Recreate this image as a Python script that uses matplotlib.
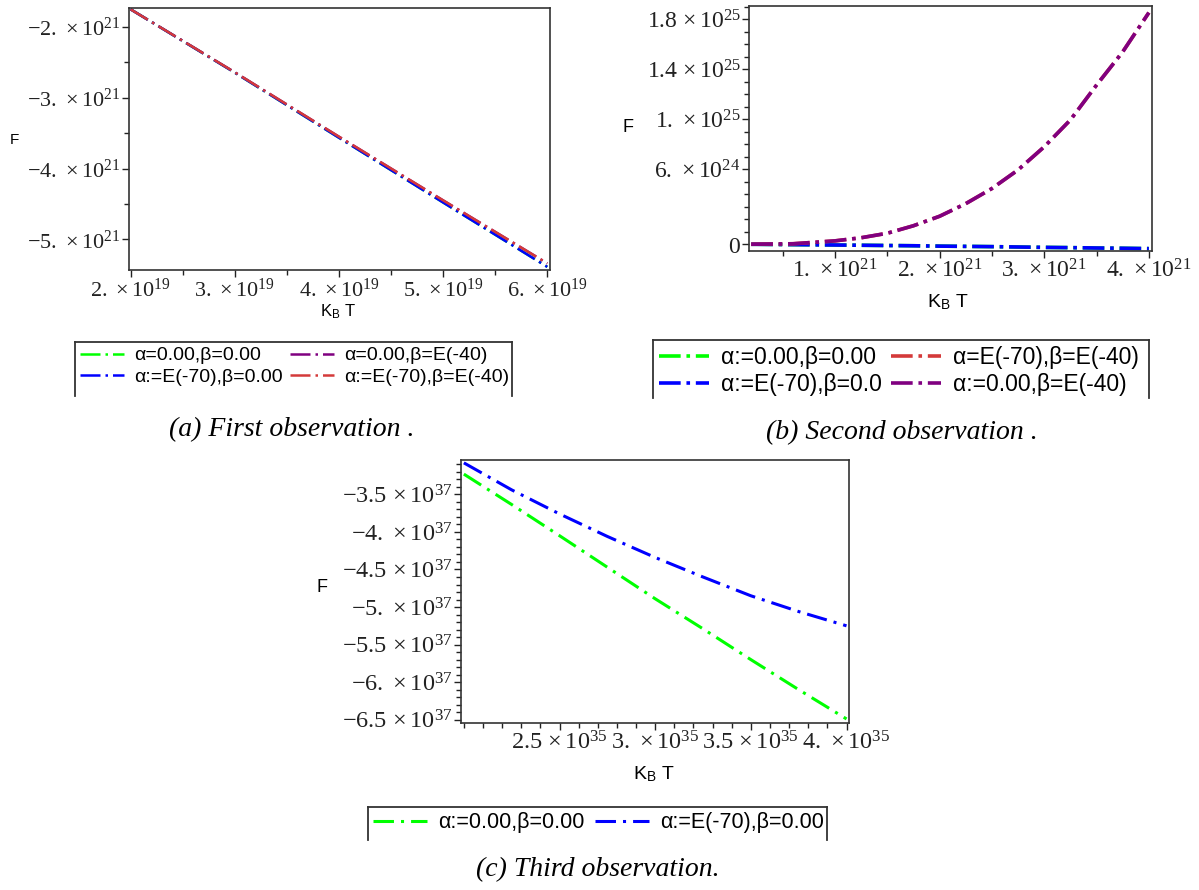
import matplotlib
matplotlib.use("Agg")
import matplotlib.pyplot as plt
import numpy as np
from matplotlib.ticker import FixedLocator, MultipleLocator, FuncFormatter

plt.rcParams['mathtext.fontset'] = 'custom'
plt.rcParams['mathtext.rm'] = 'Liberation Serif'
plt.rcParams['mathtext.it'] = 'Liberation Serif:italic'
plt.rcParams['mathtext.sf'] = 'Liberation Sans'
plt.rcParams['font.family'] = ['Liberation Sans', 'DejaVu Sans']

# ---- datos (a) primera observacion
kT_a = np.array([2.0, 3.0, 4.0, 5.0, 6.0]) * 1e19
F_a_green = np.array([-1.75, -2.645, -3.565, -4.48, -5.39]) * 1e21
F_a_blue = np.array([-1.75, -2.645, -3.565, -4.48, -5.39]) * 1e21
F_a_purple = np.array([-1.75, -2.64, -3.55, -4.45, -5.34]) * 1e21
F_a_red = np.array([-1.75, -2.64, -3.55, -4.45, -5.34]) * 1e21

# ---- datos (b) segunda observacion
kT_b = np.array([0.2, 0.6, 1.0, 1.25, 1.5, 1.75, 2.0, 2.25, 2.5, 2.75,
                 3.0, 3.25, 3.5, 3.75, 4.0]) * 1e21
F_b_purple = np.array([0.0, 0.004, 0.027, 0.052, 0.088, 0.148, 0.224, 0.325,
                       0.446, 0.595, 0.78, 0.995, 1.274, 1.54, 1.854]) * 1e25
F_b_red = F_b_purple.copy()
F_b_blue = np.array([0.0, -0.003, -0.006, -0.008, -0.010, -0.012, -0.015, -0.017,
                     -0.019, -0.022, -0.025, -0.027, -0.030, -0.032, -0.035]) * 1e25
F_b_green = F_b_blue.copy()

# ---- datos (c) tercera observacion
kT_c = np.array([2.0, 2.25, 2.5, 2.75, 3.0, 3.25, 3.5, 3.75, 4.0]) * 1e35
F_c_green = np.array([-3.23, -3.635, -4.05, -4.47, -4.89, -5.29, -5.70, -6.10, -6.49]) * 1e37
F_c_blue = np.array([-3.08, -3.44, -3.76, -4.06, -4.34, -4.60, -4.85, -5.06, -5.25]) * 1e37

lab_a = ["α=0.00,β=0.00", "α:=E(-70),β=0.00", "α=0.00,β=E(-40)", "α:=E(-70),β=E(-40)"]
lab_b = ["α:=0.00,β=0.00", "α:=E(-70),β=0.0", "α=E(-70),β=E(-40)", "α:=0.00,β=E(-40)"]
lab_c = ["α:=0.00,β=0.00", "α:=E(-70),β=0.00"]

GREEN, BLUE, PURPLE, RED = '#00ff00', '#0000ff', '#800080', '#d43a3a'

W, H = 1199, 890


def caja(l, t, r, b):
    return [l / W, 1 - b / H, (r - l) / W, (b - t) / H]


def maple_sci(v, pos=None):
    if abs(v) < 1e-300:
        return r'$0$'
    mant, exp = f"{abs(v):.3e}".split('e')
    mant = mant.rstrip('0')
    sign = '-' if v < 0 else ''
    return rf'${sign}{mant}\,\times10^{{{int(exp)}}}$'


def estilo(lw, dash, dot, gap):
    return dict(lw=lw, linestyle=(0, (dash, gap, dot, gap)))


def preparar(ax, fs):
    for s in ax.spines.values():
        s.set_color('#333333')
        s.set_linewidth(1.2)
    ax.tick_params(which='both', direction='out', width=1, colors='#222222', pad=1)
    ax.tick_params(which='major', length=5)
    ax.tick_params(which='minor', length=3.5)
    ax.xaxis.set_major_formatter(FuncFormatter(maple_sci))
    ax.yaxis.set_major_formatter(FuncFormatter(maple_sci))
    ax.tick_params(labelsize=fs)


def marco_leyenda(l, t, r, b, handles, labels, fs, hl, cs):
    lax = fig.add_axes(caja(l, t, r, b))
    lax.set_xticks([])
    lax.set_yticks([])
    lax.patch.set_alpha(0)
    lax.spines['bottom'].set_visible(False)
    for s in ['left', 'top', 'right']:
        lax.spines[s].set_color('#333333')
        lax.spines[s].set_linewidth(1.3)
    lax.legend(handles, labels, loc='upper left', bbox_to_anchor=(0, 1), ncol=2,
               frameon=False, prop={'family': 'Liberation Sans', 'size': fs},
               handlelength=hl, handletextpad=0.5, columnspacing=cs,
               borderpad=0.25, borderaxespad=0, labelspacing=0.2)


fig = plt.figure(figsize=(11.99, 8.90), dpi=100)

# ---------------- (a)
ax1 = fig.add_axes(caja(129, 8, 550, 270))
st = estilo(1.8, 8, 1, 2)
l_g, = ax1.plot(kT_a, F_a_green, color=GREEN, **st)
l_p, = ax1.plot(kT_a, F_a_purple, color=PURPLE, **st)
l_b, = ax1.plot(kT_a, F_a_blue, color=BLUE, **st)
l_r, = ax1.plot(kT_a, F_a_red, color=RED, **st)
ax1.set_xlim(1.984e19, 6.026e19)
ax1.set_ylim(-5.434e21, -1.731e21)
ax1.xaxis.set_major_locator(FixedLocator([2e19, 3e19, 4e19, 5e19, 6e19]))
ax1.xaxis.set_minor_locator(MultipleLocator(0.5e19))
ax1.yaxis.set_major_locator(FixedLocator([-5e21, -4e21, -3e21, -2e21]))
ax1.yaxis.set_minor_locator(MultipleLocator(0.5e21))
preparar(ax1, 16)
fig.text(14 / W, 1 - 140 / H, 'F', fontsize=11, ha='center', va='center')
fig.text(338 / W, 1 - 312 / H, r'K$_{\mathsf{B}}$ T', fontsize=12, ha='center', va='center')
marco_leyenda(75, 342, 512, 396, [l_g, l_b, l_p, l_r], lab_a, 14, 2.27, 0.4)
fig.text(292 / W, 1 - 430 / H, '(a) First observation .', family='Liberation Serif',
         style='italic', fontsize=20, ha='center', va='center')

# ---------------- (b)
ax2 = fig.add_axes(caja(749, 6, 1152, 251))
st = estilo(2.6, 6, 1, 1.6)
m_g, = ax2.plot(kT_b, F_b_green, color=GREEN, **st)
m_b, = ax2.plot(kT_b, F_b_blue, color=BLUE, **st)
m_r, = ax2.plot(kT_b, F_b_red, color=RED, **st)
m_p, = ax2.plot(kT_b, F_b_purple, color=PURPLE, **st)
ax2.set_xlim(0.179e21, 4.03e21)
ax2.set_ylim(-0.054e25, 1.907e25)
ax2.xaxis.set_major_locator(FixedLocator([1e21, 2e21, 3e21, 4e21]))
ax2.xaxis.set_minor_locator(MultipleLocator(0.5e21))
ax2.yaxis.set_major_locator(FixedLocator([0, 6e24, 1e25, 1.4e25, 1.8e25]))
ax2.yaxis.set_minor_locator(MultipleLocator(1e24))
preparar(ax2, 17)
fig.text(628 / W, 1 - 128 / H, 'F', fontsize=13, ha='center', va='center')
fig.text(948 / W, 1 - 302 / H, r'K$_{\mathsf{B}}$ T', fontsize=14, ha='center', va='center')
marco_leyenda(653, 340, 1149, 398, [m_g, m_b, m_r, m_p], lab_b, 16.5, 2.2, 0.4)
fig.text(902 / W, 1 - 433 / H, '(b) Second observation .', family='Liberation Serif',
         style='italic', fontsize=20, ha='center', va='center')

# ---------------- (c)
ax3 = fig.add_axes(caja(461, 460, 849, 723))
st = estilo(2.2, 6.7, 1, 2.3)
n_g, = ax3.plot(kT_c, F_c_green, color=GREEN, **st)
n_b, = ax3.plot(kT_c, F_c_blue, color=BLUE, **st)
ax3.set_xlim(1.985e35, 4.013e35)
ax3.set_ylim(-6.544e37, -3.042e37)
ax3.xaxis.set_major_locator(FixedLocator([2.5e35, 3e35, 3.5e35, 4e35]))
ax3.xaxis.set_minor_locator(MultipleLocator(0.1e35))
ax3.yaxis.set_major_locator(FixedLocator([-6.5e37, -6e37, -5.5e37, -5e37, -4.5e37, -4e37, -3.5e37]))
ax3.yaxis.set_minor_locator(MultipleLocator(0.1e37))
preparar(ax3, 17.5)
fig.text(322 / W, 1 - 587 / H, 'F', fontsize=13, ha='center', va='center')
fig.text(654 / W, 1 - 774 / H, r'K$_{\mathsf{B}}$ T', fontsize=14, ha='center', va='center')
marco_leyenda(368, 807, 827, 840, [n_g, n_b], lab_c, 15.5, 2.5, 0.5)
fig.text(598 / W, 1 - 870 / H, '(c) Third observation.', family='Liberation Serif',
         style='italic', fontsize=20, ha='center', va='center')

fig.savefig('out.png', dpi=100)
